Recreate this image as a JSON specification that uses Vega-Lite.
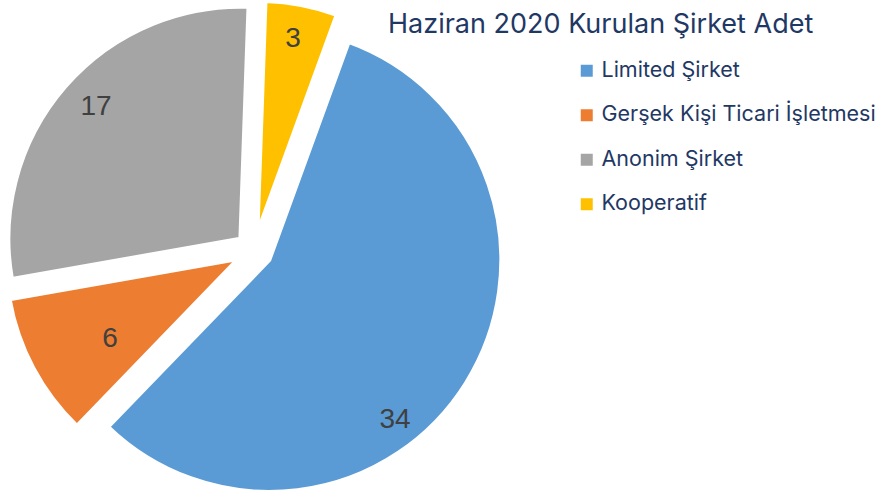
{
  "$schema": "https://vega.github.io/schema/vega-lite/v6.json",
  "width": 508,
  "height": 489,
  "padding": {"top": 6, "left": 0, "right": 370, "bottom": 0},
  "autosize": {"type": "none"},
  "background": "white",
  "config": {"view": {"stroke": null}},
  "title": {
    "text": "Haziran 2020 Kurulan Şirket Adet",
    "orient": "none",
    "anchor": "start",
    "dx": 388,
    "dy": 27,
    "baseline": "alphabetic",
    "font": "Inter",
    "fontSize": 27,
    "fontWeight": "normal",
    "color": "#1f3864"
  },
  "data": {
    "values": [
      {"tur": "Limited Şirket", "adet": 34},
      {"tur": "Gerşek Kişi Ticari İşletmesi", "adet": 6},
      {"tur": "Anonim Şirket", "adet": 17},
      {"tur": "Kooperatif", "adet": 3}
    ]
  },
  "transform": [
    {"calculate": "indexof(['Limited Şirket', 'Gerşek Kişi Ticari İşletmesi', 'Anonim Şirket', 'Kooperatif'], datum.tur)", "as": "sira"}
  ],
  "layer": [
    {
      "mark": {"type": "arc", "outerRadius": 232, "stroke": "white", "strokeWidth": 4, "xOffset": 15.3, "yOffset": 9.5},
      "encoding": {
        "theta": {"field": "adet", "type": "quantitative", "stack": true, "scale": {"range": [0.349066, 6.632251]}},
        "order": {"field": "sira", "type": "quantitative"},
        "color": {"field": "tur", "type": "nominal", "sort": ["Limited Şirket", "Gerşek Kişi Ticari İşletmesi", "Anonim Şirket", "Kooperatif"],
          "scale": {"domain": ["Limited Şirket", "Gerşek Kişi Ticari İşletmesi", "Anonim Şirket", "Kooperatif"], "range": ["#5b9bd5", "#ed7d31", "#a5a5a5", "#ffc000"]},
          "legend": {"orient": "none", "legendX": 576, "legendY": 54, "title": null, "symbolType": "square", "symbolSize": 144, "symbolStrokeWidth": 0, "labelFont": "Inter", "labelFontSize": 21.5, "labelColor": "#1f3864", "rowPadding": 21.5, "labelOffset": 4, "labelLimit": 400, "padding": 0}},
        "opacity": {"condition": {"test": "datum.tur === 'Limited Şirket'", "value": 1}, "value": 0}
      }
    },
    {
      "mark": {"type": "arc", "outerRadius": 232, "stroke": "white", "strokeWidth": 4, "xOffset": -15.9, "yOffset": 8.5},
      "encoding": {
        "theta": {"field": "adet", "type": "quantitative", "stack": true, "scale": {"range": [0.349066, 6.632251]}},
        "order": {"field": "sira", "type": "quantitative"},
        "color": {"field": "tur", "type": "nominal", "sort": ["Limited Şirket", "Gerşek Kişi Ticari İşletmesi", "Anonim Şirket", "Kooperatif"],
          "scale": {"domain": ["Limited Şirket", "Gerşek Kişi Ticari İşletmesi", "Anonim Şirket", "Kooperatif"], "range": ["#5b9bd5", "#ed7d31", "#a5a5a5", "#ffc000"]},
          "legend": {"orient": "none", "legendX": 576, "legendY": 54, "title": null, "symbolType": "square", "symbolSize": 144, "symbolStrokeWidth": 0, "labelFont": "Inter", "labelFontSize": 21.5, "labelColor": "#1f3864", "rowPadding": 21.5, "labelOffset": 4, "labelLimit": 400, "padding": 0}},
        "opacity": {"condition": {"test": "datum.tur === 'Gerşek Kişi Ticari İşletmesi'", "value": 1}, "value": 0}
      }
    },
    {
      "mark": {"type": "arc", "outerRadius": 232, "stroke": "white", "strokeWidth": 4, "xOffset": -13.6, "yOffset": -11.8},
      "encoding": {
        "theta": {"field": "adet", "type": "quantitative", "stack": true, "scale": {"range": [0.349066, 6.632251]}},
        "order": {"field": "sira", "type": "quantitative"},
        "color": {"field": "tur", "type": "nominal", "sort": ["Limited Şirket", "Gerşek Kişi Ticari İşletmesi", "Anonim Şirket", "Kooperatif"],
          "scale": {"domain": ["Limited Şirket", "Gerşek Kişi Ticari İşletmesi", "Anonim Şirket", "Kooperatif"], "range": ["#5b9bd5", "#ed7d31", "#a5a5a5", "#ffc000"]},
          "legend": {"orient": "none", "legendX": 576, "legendY": 54, "title": null, "symbolType": "square", "symbolSize": 144, "symbolStrokeWidth": 0, "labelFont": "Inter", "labelFontSize": 21.5, "labelColor": "#1f3864", "rowPadding": 21.5, "labelOffset": 4, "labelLimit": 400, "padding": 0}},
        "opacity": {"condition": {"test": "datum.tur === 'Anonim Şirket'", "value": 1}, "value": 0}
      }
    },
    {
      "mark": {"type": "arc", "outerRadius": 232, "stroke": "white", "strokeWidth": 4, "xOffset": 3.4, "yOffset": -17.7},
      "encoding": {
        "theta": {"field": "adet", "type": "quantitative", "stack": true, "scale": {"range": [0.349066, 6.632251]}},
        "order": {"field": "sira", "type": "quantitative"},
        "color": {"field": "tur", "type": "nominal", "sort": ["Limited Şirket", "Gerşek Kişi Ticari İşletmesi", "Anonim Şirket", "Kooperatif"],
          "scale": {"domain": ["Limited Şirket", "Gerşek Kişi Ticari İşletmesi", "Anonim Şirket", "Kooperatif"], "range": ["#5b9bd5", "#ed7d31", "#a5a5a5", "#ffc000"]},
          "legend": {"orient": "none", "legendX": 576, "legendY": 54, "title": null, "symbolType": "square", "symbolSize": 144, "symbolStrokeWidth": 0, "labelFont": "Inter", "labelFontSize": 21.5, "labelColor": "#1f3864", "rowPadding": 21.5, "labelOffset": 4, "labelLimit": 400, "padding": 0}},
        "opacity": {"condition": {"test": "datum.tur === 'Kooperatif'", "value": 1}, "value": 0}
      }
    },
    {
      "mark": {"type": "text", "radius": 180, "xOffset": -11.6, "yOffset": 74.6, "font": "Liberation Sans", "fontSize": 28, "color": "#404040"},
      "encoding": {
        "theta": {"field": "adet", "type": "quantitative", "stack": true, "scale": {"range": [0.349066, 6.632251]}},
        "order": {"field": "sira", "type": "quantitative"},
        "detail": {"field": "tur", "type": "nominal"},
        "text": {"field": "adet", "type": "quantitative"},
        "opacity": {"condition": {"test": "datum.tur === 'Limited Şirket'", "value": 1}, "value": 0}
      }
    },
    {
      "mark": {"type": "text", "radius": 151, "xOffset": -10.7, "yOffset": 17.3, "font": "Liberation Sans", "fontSize": 28, "color": "#404040"},
      "encoding": {
        "theta": {"field": "adet", "type": "quantitative", "stack": true, "scale": {"range": [0.349066, 6.632251]}},
        "order": {"field": "sira", "type": "quantitative"},
        "detail": {"field": "tur", "type": "nominal"},
        "text": {"field": "adet", "type": "quantitative"},
        "opacity": {"condition": {"test": "datum.tur === 'Gerşek Kişi Ticari İşletmesi'", "value": 1}, "value": 0}
      }
    },
    {
      "mark": {"type": "text", "radius": 195, "xOffset": -10.8, "yOffset": -15.1, "font": "Liberation Sans", "fontSize": 28, "color": "#404040"},
      "encoding": {
        "theta": {"field": "adet", "type": "quantitative", "stack": true, "scale": {"range": [0.349066, 6.632251]}},
        "order": {"field": "sira", "type": "quantitative"},
        "detail": {"field": "tur", "type": "nominal"},
        "text": {"field": "adet", "type": "quantitative"},
        "opacity": {"condition": {"test": "datum.tur === 'Anonim Şirket'", "value": 1}, "value": 0}
      }
    },
    {
      "mark": {"type": "text", "radius": 197, "xOffset": 1.4, "yOffset": -17.7, "font": "Liberation Sans", "fontSize": 28, "color": "#404040"},
      "encoding": {
        "theta": {"field": "adet", "type": "quantitative", "stack": true, "scale": {"range": [0.349066, 6.632251]}},
        "order": {"field": "sira", "type": "quantitative"},
        "detail": {"field": "tur", "type": "nominal"},
        "text": {"field": "adet", "type": "quantitative"},
        "opacity": {"condition": {"test": "datum.tur === 'Kooperatif'", "value": 1}, "value": 0}
      }
    }
  ]
}
